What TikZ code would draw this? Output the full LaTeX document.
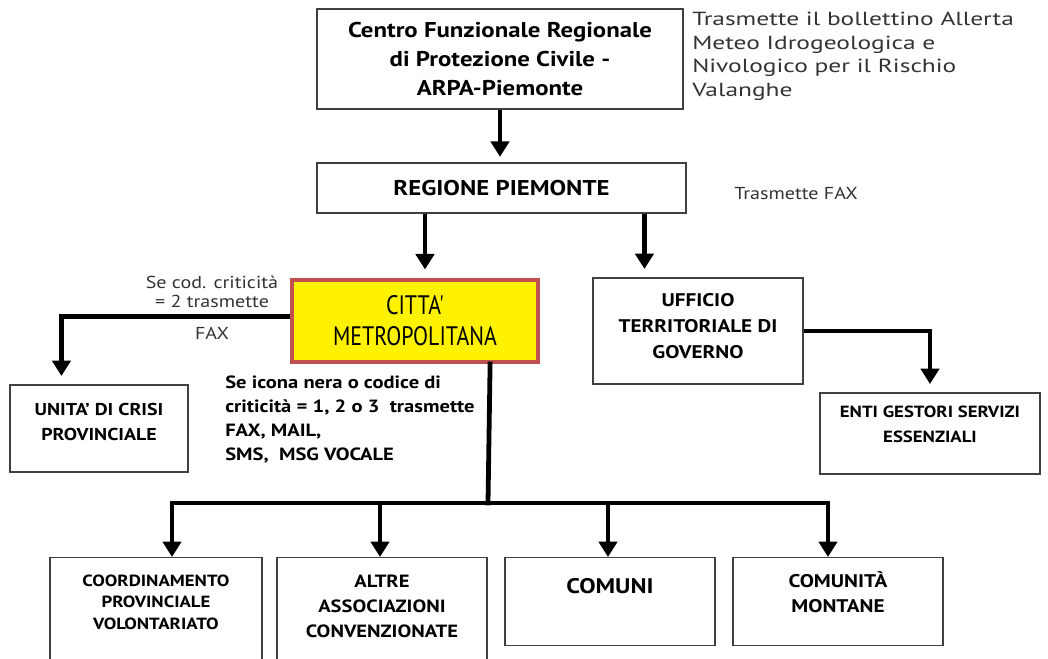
\documentclass[tikz,border=0pt]{standalone}
\usepackage{fontspec}
\setmainfont{PT Sans}[FakeStretch=1.16]
\newfontfamily\widefont{PT Sans}[FakeStretch=1.34]
\newfontfamily\narrowfont{PT Sans}[FakeStretch=0.82]
\usetikzlibrary{arrows.meta,positioning}
\definecolor{cittaborder}{HTML}{C0504D}
\definecolor{notegray}{HTML}{333333}

\begin{document}
\begin{tikzpicture}[
        x=0.025cm, y=-0.025cm,
        >={Triangle[width=13pt,length=11pt]},
        ente/.style={draw=black!75, line width=0.8pt, fill=white, inner sep=0pt, align=center},
        flow/.style={->, line width=3.4pt, shorten >=6pt},
        bus/.style={line width=3.4pt, line cap=rect},
        nota/.style={align=left, text=notegray, inner sep=0pt},
        boxsize/.style 2 args={minimum width=#1*0.025cm, minimum height=#2*0.025cm}
    ]
    \useasboundingbox (0,0) rectangle (1048,659);
    \clip (0,0) rectangle (1048,659);

    \def\titlefont{\bfseries\fontsize{15.2}{20.6}\selectfont}
    \def\boxfont{\bfseries\fontsize{13}{18.5}\selectfont}

    %Upper boxes

    \node[ente, boxsize={366}{100}, font=\titlefont] (centro) at (500,59) {Centro Funzionale Regionale\\di Protezione Civile -\\ARPA-Piemonte};
    \node[ente, boxsize={369}{50}, font=\titlefont] (regione) at (501.5,188) {REGIONE PIEMONTE};
    \node[ente, boxsize={246}{82}, draw=cittaborder, line width=3pt, fill=yellow,
          font=\narrowfont\fontsize{19}{22}\selectfont] (citta) at (415,321) {CITTA'\\METROPOLITANA};
    \node[ente, boxsize={210}{106}] (ufficio) at (698,331) {};
    \node[font=\boxfont, align=center] (ufficiotxt) at (698,326.5) {UFFICIO\\TERRITORIALE DI\\GOVERNO};
    \node[ente, boxsize={178}{87}] (unita) at (99,428.5) {};
    \node[font=\bfseries\fontsize{12.2}{18}\selectfont, align=center] (unitatxt) at (99,422) {UNITA' DI CRISI\\PROVINCIALE};
    \node[ente, boxsize={220}{81}] (enti) at (930,433.5) {};
    \node[font=\bfseries\fontsize{11.5}{18}\selectfont, align=center, below=6pt of enti.north] (entitxt) {ENTI GESTORI SERVIZI\\ESSENZIALI};

    %Lower boxes

    \node[ente, boxsize={212}{130}, anchor=north] (coord) at (156,557) {};
    \node[ente, boxsize={210}{130}, anchor=north] (altre) at (382,557) {};
    \node[ente, boxsize={210}{88}, anchor=north] (comuni) at (610,557) {};
    \node[ente, boxsize={210}{88}, anchor=north] (montane) at (838,557) {};
    \node[font=\bfseries\fontsize{11.5}{15.5}\selectfont, align=center, below=9pt of coord.north] (coordtxt) {COORDINAMENTO\\PROVINCIALE\\VOLONTARIATO};
    \node[font=\bfseries\fontsize{12.6}{17.5}\selectfont, align=center, below=9.5pt of altre.north] (altretxt) {ALTRE\\ASSOCIAZIONI\\CONVENZIONATE};
    \node[font=\bfseries\fontsize{15}{18}\selectfont, align=center, below=12pt of comuni.north] (comunitxt) {COMUNI};
    \node[font=\bfseries\fontsize{13}{17.5}\selectfont, align=center, below=7pt of montane.north] (montanetxt) {COMUNITÀ\\MONTANE};

    %Notes

    \node[nota, anchor=north west, font=\widefont\fontsize{13.5}{16.7}\selectfont] (noteallerta) at (692,12) {Trasmette il bollettino Allerta\\Meteo Idrogeologica e\\Nivologico per il Rischio\\Valanghe};
    \node[nota, anchor=west, font=\fontsize{12.3}{15}\selectfont] (notefax) at (734,193) {Trasmette FAX};
    \node[nota, align=center, font=\fontsize{12.3}{13.5}\selectfont] (notecrit) at (212,292) {Se cod. criticità\\= 2 trasmette};
    \node[nota, font=\fontsize{12.3}{13.5}\selectfont] (notefaxb) at (212,333) {FAX};
    \node[nota, anchor=north west, text=black, font=\bfseries\fontsize{12.6}{16.9}\selectfont] (noteicona) at (225,376)
        {Se icona nera o codice di\\criticità = 1,\ 2 o 3\ \ trasmette\\FAX, MAIL,\\SMS,\ \ MSG VOCALE};

    %Connectors

    \draw[flow, shorten >=4pt] (centro.south) -- (centro.south |- regione.north);
    \draw[flow] ([xshift=0.25cm]citta.north |- regione.south) -- ([xshift=0.25cm]citta.north);
    \draw[flow] ([xshift=1.3cm]ufficio.north west |- regione.south) -- ([xshift=1.3cm]ufficio.north west);
    \draw[flow] ([yshift=0.12cm]citta.west) -| ([xshift=1.3cm]unita.north west);
    \draw[flow] (ufficio.east) -| (enti.north);

    \coordinate (bus) at (488,503);
    \draw[bus] ([xshift=-1.25cm]citta.south east) -- (bus);
    \draw[bus] ([xshift=0.4cm]coord.north |- bus) -- ([xshift=-0.25cm]montane.north |- bus);
    \foreach \nm/\dx in {coord/16, altre/-2, comuni/-2, montane/-10}
        \draw[flow, shorten >=0pt] ([xshift=\dx*0.025cm]\nm.north |- bus) -- ([xshift=\dx*0.025cm]\nm.north);

\end{tikzpicture}
\end{document}
